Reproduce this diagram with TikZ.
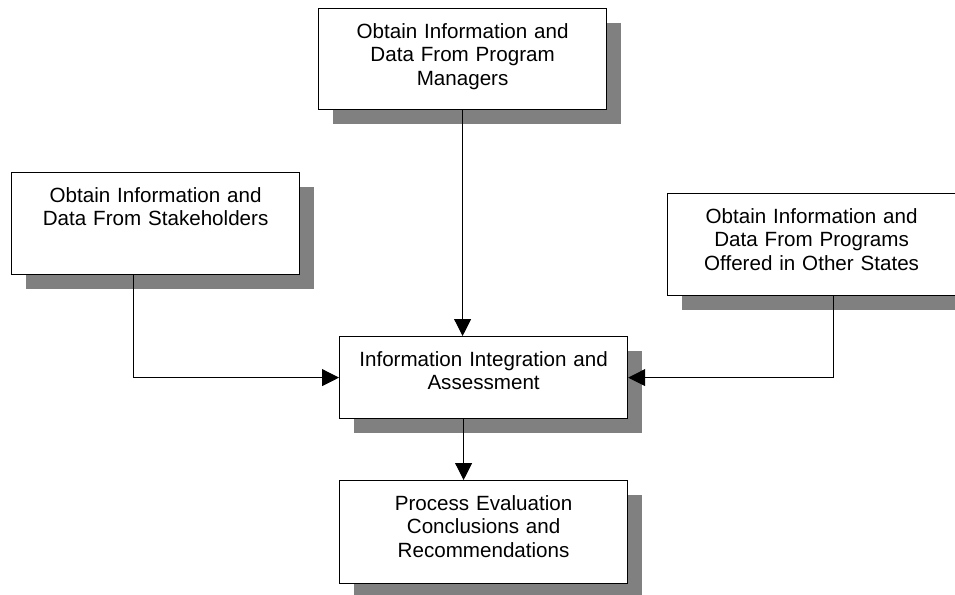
\documentclass[tikz,border=0pt]{standalone}
\usepackage{fontspec}
\setmainfont{Liberation Sans}
\usetikzlibrary{arrows.meta}
\usetikzlibrary{shadows}

\begin{document}
\begin{tikzpicture}[x=1pt, y=-1pt,
  every node/.style={draw, line width=1.2pt, fill=white, anchor=north west,
    inner xsep=4pt, inner ysep=0pt, text width=280pt, align=center, text height=29.5pt,
    font=\fontsize{20.6}{23.7}\selectfont,
    drop shadow={shadow xshift=14pt, shadow yshift=-14pt, fill=gray, opacity=1}},
  link/.style={line width=1pt, -{Triangle[length=17pt, width=17pt]}}]
\useasboundingbox (0,0) rectangle (955,594);
\node[text depth=71.5pt] (pm) at (318,8) {Obtain Information and\\Data From Program\\Managers};
\node[text depth=72.5pt] (sh) at (11,172) {Obtain Information and\\Data From Stakeholders};
\node[text depth=72.5pt] (os) at (667,193) {Obtain Information and\\Data From Programs\\Offered in Other States};
\node[text depth=52.5pt] (ia) at (339,336) {Information Integration and\\Assessment};
\node[text depth=73.5pt] (pe) at (339,480) {Process Evaluation\\Conclusions and\\Recommendations};

\draw[link] (pm.south) -- (pm.south |- ia.north);
\draw[link] ([xshift=-22pt]sh.south) |- (ia.west);
\draw[link] ([xshift=21.5pt]os.south) |- (ia.east);
\draw[link] ([xshift=-20pt]ia.south) -- ([xshift=-20pt]pe.north);
\end{tikzpicture}
\end{document}
